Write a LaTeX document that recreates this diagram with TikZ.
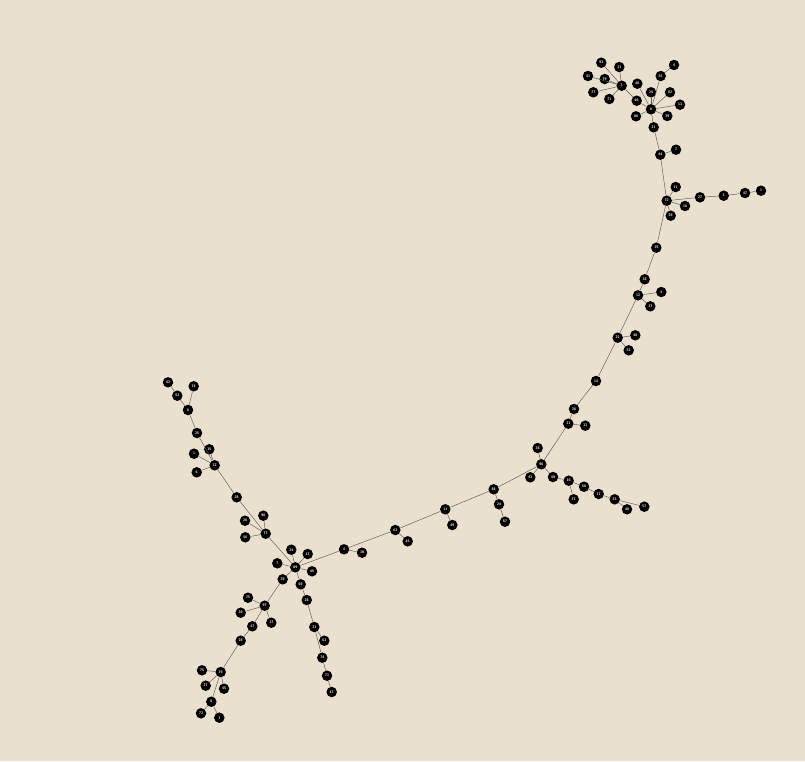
\documentclass[tikz,border=0pt]{standalone}
\usepackage{tikz}
\definecolor{paper}{RGB}{234,224,206}
\definecolor{edgegray}{RGB}{95,90,82}
\tikzset{
  vert/.style={circle, fill=black, inner sep=0pt, minimum size=10.5pt,
    text=white, font=\fontsize{3.6}{4}\selectfont\sffamily\bfseries},
  link/.style={edgegray, line width=0.45pt}
}
\begin{document}
\begin{tikzpicture}[x=1pt, y=-1pt]
\fill[paper] (0,0) rectangle (805,761);
\useasboundingbox (0,0) rectangle (805,761);

% ===== top cluster =====
\node[vert] (v1) at (621.7,85.7) {3};
\node[vert] (v2) at (601.3,62.7) {93};
\node[vert] (v3) at (619.3,67) {31};
\node[vert] (v4) at (588,76) {41};
\node[vert] (v5) at (604.7,79) {79};
\node[vert] (v6) at (593.3,92.3) {77};
\node[vert] (v7) at (609.3,99) {71};
\node[vert] (v8) at (636.7,100.7) {66};
\node[vert] (v9) at (651,109.3) {6};
\node[vert] (v10) at (637.3,83.7) {46};
\node[vert] (v11) at (660.7,76) {55};
\node[vert] (v12) at (674,65) {4};
\node[vert] (v13) at (651,92.3) {24};
\node[vert] (v14) at (670,92.3) {82};
\node[vert] (v15) at (680,104.7) {13};
\node[vert] (v16) at (636,116.3) {86};
\node[vert] (v17) at (667.3,116) {29};
\node[vert] (v18) at (653.7,127.3) {21};

% ===== right branch =====
\node[vert] (v19) at (660.3,154.7) {44};
\node[vert] (v20) at (676,149.7) {7};
\node[vert] (v21) at (666.7,200.7) {72};
\node[vert] (v22) at (675.7,187) {11};
\node[vert] (v23) at (685,206) {16};
\node[vert] (v24) at (670.7,215.7) {26};
\node[vert] (v25) at (700,197.3) {27};
\node[vert] (v26) at (723.7,195.7) {3};
\node[vert] (v27) at (745,193) {47};
\node[vert] (v28) at (761,190.7) {1};

% ===== long arc down =====
\node[vert] (v29) at (656.3,247.7) {15};
\node[vert] (v30) at (644.7,279.3) {38};
\node[vert] (v31) at (638,295.3) {12};
\node[vert] (v32) at (661.3,292) {4};
\node[vert] (v33) at (650.3,306.3) {33};
\node[vert] (v34) at (617.7,337.7) {22};
\node[vert] (v35) at (635.3,335.3) {40};
\node[vert] (v36) at (628.7,350.3) {52};
\node[vert] (v37) at (596,381) {14};
\node[vert] (v38) at (574,409) {26};
\node[vert] (v39) at (568.3,423.7) {31};
\node[vert] (v40) at (585.3,425.7) {33};
\node[vert] (v41) at (537.7,448) {38};
\node[vert] (v42) at (541.3,464.3) {96};
\node[vert] (v43) at (530.3,477.3) {42};
\node[vert] (v44) at (553,477) {49};
\node[vert] (v45) at (568.7,480.7) {16};
\node[vert] (v46) at (573.7,499.3) {57};
\node[vert] (v47) at (584,486.7) {58};
\node[vert] (v48) at (598.7,494) {17};
\node[vert] (v49) at (614.7,499.3) {23};
\node[vert] (v50) at (627,509.3) {48};
\node[vert] (v51) at (644.3,506.7) {57};

% ===== middle =====
\node[vert] (v52) at (493.7,489.3) {88};
\node[vert] (v53) at (499,504.3) {24};
\node[vert] (v54) at (505,521.7) {67};
\node[vert] (v55) at (445.3,509.3) {11};
\node[vert] (v56) at (452.3,525) {49};
\node[vert] (v57) at (395.3,530) {63};
\node[vert] (v58) at (407.7,541.3) {43};
\node[vert] (v59) at (344,549.3) {4};
\node[vert] (v60) at (362,552.7) {30};

% ===== left upper branch =====
\node[vert] (v61) at (168,382.3) {42};
\node[vert] (v62) at (177.3,395.7) {52};
\node[vert] (v63) at (193.7,386.3) {74};
\node[vert] (v64) at (188,410) {6};
\node[vert] (v65) at (197,433) {25};
\node[vert] (v66) at (209.3,449.3) {15};
\node[vert] (v67) at (194,453.7) {1};
\node[vert] (v68) at (214.7,465.3) {32};
\node[vert] (v69) at (196.7,472.3) {6};
\node[vert] (v70) at (236.7,497.3) {28};
\node[vert] (v71) at (263.3,515.7) {90};
\node[vert] (v72) at (245,520.7) {28};
\node[vert] (v73) at (245.3,537.3) {56};
\node[vert] (v74) at (265.7,533.7) {77};

% ===== left hub =====
\node[vert] (v75) at (295.3,567.3) {89};
\node[vert] (v76) at (291.3,549.7) {24};
\node[vert] (v77) at (307.7,554) {13};
\node[vert] (v78) at (277.3,563.3) {7};
\node[vert] (v79) at (312,571.3) {45};
\node[vert] (v80) at (282.7,579.3) {39};
\node[vert] (v81) at (300.7,584.3) {69};

% ===== lower left =====
\node[vert] (v82) at (264.7,605.7) {97};
\node[vert] (v83) at (248,597.7) {75};
\node[vert] (v84) at (240.7,612.7) {39};
\node[vert] (v85) at (271.3,622.7) {37};
\node[vert] (v86) at (252.3,626.3) {47};
\node[vert] (v87) at (240.7,640.7) {28};
\node[vert] (v88) at (220.7,672) {79};
\node[vert] (v89) at (202,670.3) {75};
\node[vert] (v90) at (205.7,685.7) {27};
\node[vert] (v91) at (224,688.7) {45};
\node[vert] (v92) at (211.3,701.7) {8};
\node[vert] (v93) at (201,713.3) {72};
\node[vert] (v94) at (219.3,717.7) {1};

% ===== lower right =====
\node[vert] (v95) at (306.7,600) {28};
\node[vert] (v96) at (314.3,627) {21};
\node[vert] (v97) at (324.3,640.7) {63};
\node[vert] (v98) at (322.3,657.7) {74};
\node[vert] (v99) at (327,675.7) {71};
\node[vert] (v100) at (331.7,692) {43};

% ===== links =====
\foreach \a/\b in {v1/v2,v1/v3,v1/v4,v1/v5,v1/v6,v1/v7,v1/v8,v8/v9,v9/v10,
  v9/v11,v11/v12,v9/v13,v9/v14,v9/v15,v9/v16,v9/v17,v9/v18,v18/v19,v19/v20,
  v19/v21,v21/v22,v21/v23,v21/v24,v21/v25,v25/v26,v26/v27,v27/v28,v21/v29,
  v29/v30,v30/v31,v31/v32,v31/v33,v31/v34,v34/v35,v34/v36,v34/v37,v37/v38,
  v38/v39,v39/v40,v39/v42,v41/v42,v42/v43,v42/v44,v44/v45,v45/v46,v45/v47,
  v47/v48,v48/v49,v49/v50,v49/v51,v42/v52,v52/v53,v53/v54,v52/v55,v55/v56,
  v55/v57,v57/v58,v57/v59,v59/v60,v59/v75}
  \draw[link] (\a) -- (\b);
\foreach \a/\b in {v61/v62,v62/v64,v63/v64,v64/v65,v65/v68,v66/v68,v67/v68,
  v69/v68,v68/v70,v70/v74,v74/v71,v74/v72,v74/v73,v74/v75,v75/v76,v75/v77,
  v75/v78,v75/v79,v75/v80,v75/v81,v80/v82,v82/v83,v82/v84,v82/v85,v82/v86,
  v86/v87,v87/v88,v88/v89,v88/v90,v88/v91,v88/v92,v92/v93,v92/v94,v81/v95,
  v95/v96,v96/v97,v96/v98,v98/v99,v99/v100}
  \draw[link] (\a) -- (\b);

\end{tikzpicture}
\end{document}
